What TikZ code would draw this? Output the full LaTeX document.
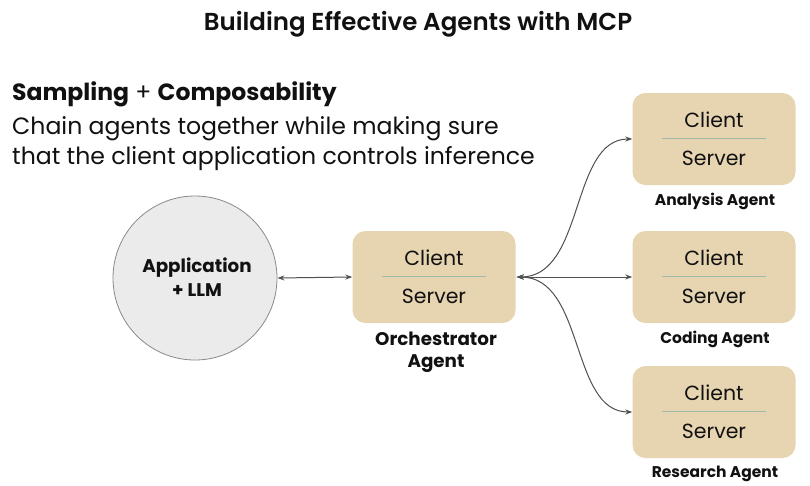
\documentclass[tikz,border=0pt]{standalone}
\usepackage{fontspec}
\setmainfont{Poppins}[BoldFont={Poppins Bold}]
\newfontfamily\popsemi{Poppins SemiBold}
\usetikzlibrary{arrows.meta}
\definecolor{boxfill}{HTML}{E7D5B1}
\definecolor{divider}{HTML}{9FB8A8}
\definecolor{circfill}{HTML}{EBEBEB}
\definecolor{circline}{HTML}{8A8A8A}
\definecolor{arrowc}{HTML}{505050}
\definecolor{txt}{HTML}{111111}
\tikzset{
  agentbox/.style={draw=none, fill=boxfill, rounded corners=13pt, minimum width=163pt, minimum height=92pt, inner sep=0pt},
  cstext/.style={font=\fontsize{20.5}{24}\selectfont, text=txt, inner sep=0pt},
  lbl/.style={font=\bfseries\fontsize{15.5}{18}\selectfont, text=txt, inner sep=0pt, align=center},
  conn/.style={draw=arrowc, line width=1pt, {Stealth[length=7pt,width=5pt]}-{Stealth[length=7pt,width=5pt]}},
}
\begin{document}
\begin{tikzpicture}[x=1pt,y=-1pt]
\useasboundingbox (0,0) rectangle (810,485);
\fill[white] (0,0) rectangle (810,485);
% title
\node[inner sep=0pt, text=txt] (title) at (418,24) {\popsemi\fontsize{24.5}{28}\selectfont Building Effective Agents with MCP};
% heading
\node[anchor=west, inner sep=0pt, text=txt] (head) at (12,94) {\fontsize{23.5}{26}\selectfont\textbf{Sampling} + \textbf{Composability}};
\node[anchor=west, inner sep=0pt, text=txt] (l1) at (12,129) {\fontsize{23.6}{26}\selectfont Chain agents together while making sure};
\node[anchor=west, inner sep=0pt, text=txt] (l2) at (12,159) {\fontsize{23.6}{26}\selectfont that the client application controls inference};
% circle
\node[circle, draw=circline, line width=0.8pt, fill=circfill, minimum size=164pt, inner sep=0pt] (app) at (195,278) {};
\node[lbl, font=\bfseries\fontsize{18.3}{24}\selectfont] (applbl) at (197,277) {Application\\+ LLM};
% boxes
\newcommand{\agentbox}[3]{%
  \node[agentbox] (#1) at (#2) {};
  \draw[divider, line width=0.8pt] ([xshift=30pt,yshift=1pt]#1.west) -- ([xshift=-30pt,yshift=1pt]#1.east);
  \node[cstext] at ([yshift=19pt]#1.center) {Client};
  \node[cstext] at ([yshift=-19pt]#1.center) {Server};
}
\agentbox{orch}{434,277}{}
\agentbox{ana}{714,139}{}
\agentbox{cod}{714,277}{}
\agentbox{res}{714,412}{}
\node[lbl, font=\bfseries\fontsize{18.3}{22}\selectfont] (orchlbl) at (436,352) {Orchestrator\\Agent};
\node[lbl] (analbl) at (715,201) {Analysis Agent};
\node[lbl] (codlbl) at (715,339) {Coding Agent};
\node[lbl] (reslbl) at (715,474) {Research Agent};
% connectors
\draw[conn] (app.east) -- (orch.west);
\coordinate (hub) at ([xshift=1pt]orch.east);
\draw[conn] (hub) .. controls (585,277) and (570,139) .. (ana.west);
\draw[conn] (hub) -- (cod.west);
\draw[conn] (hub) .. controls (585,277) and (570,412) .. (res.west);
\end{tikzpicture}
\end{document}
